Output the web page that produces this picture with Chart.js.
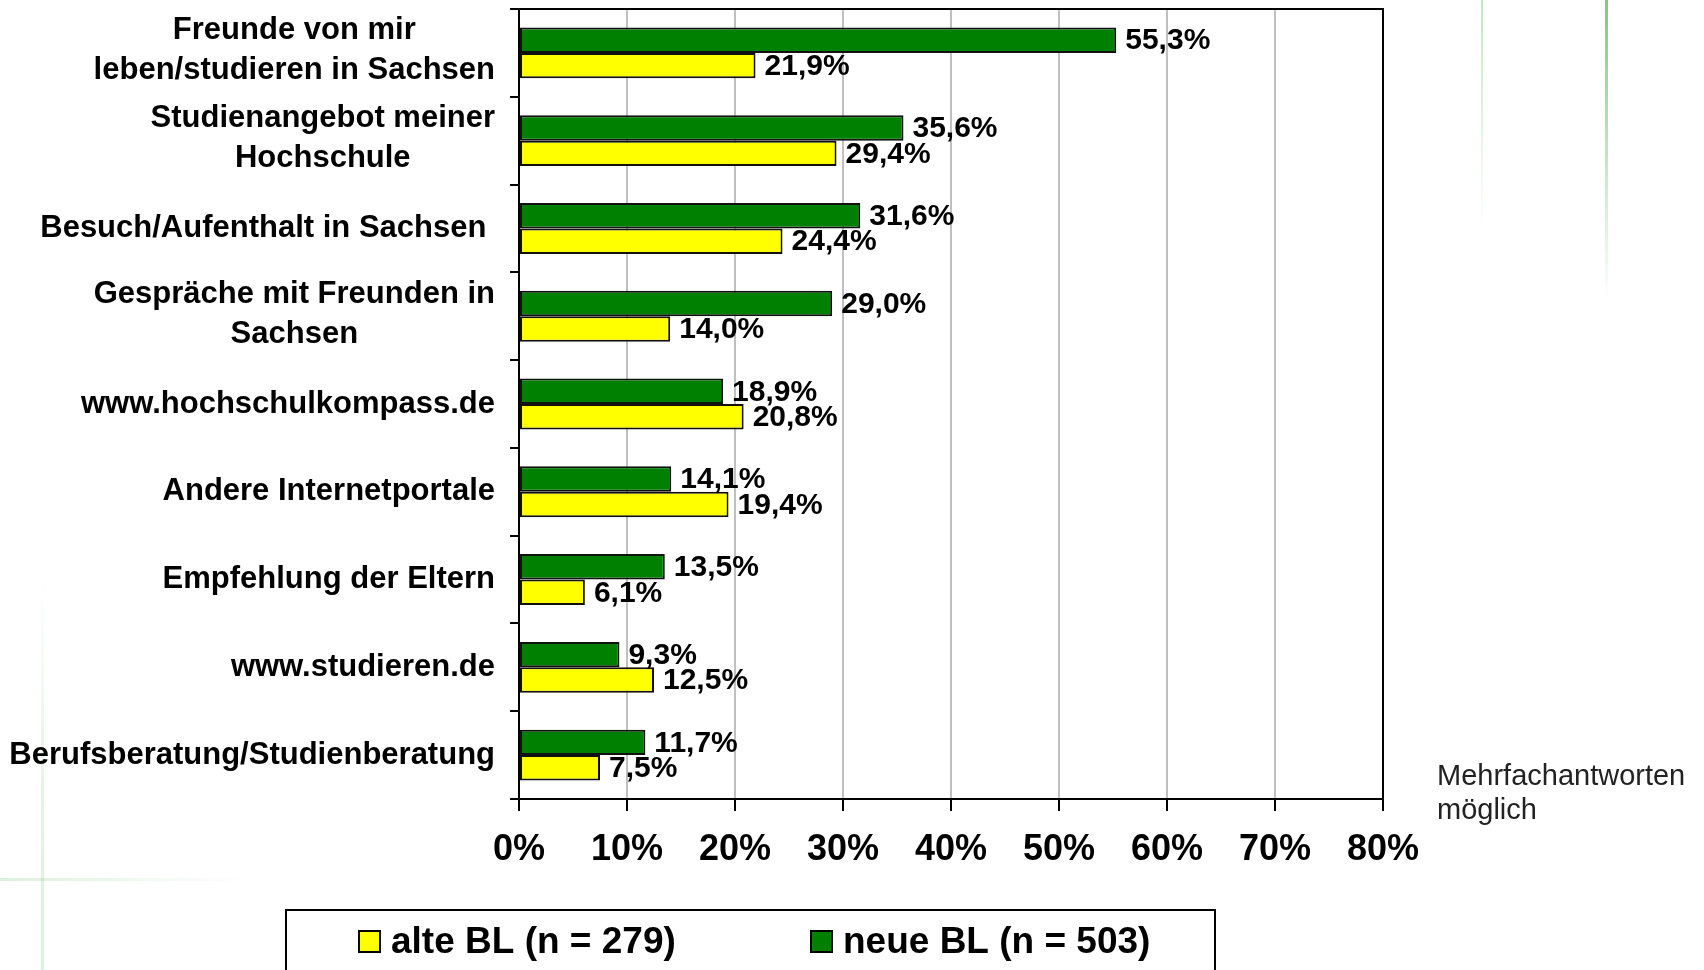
<!DOCTYPE html>
<html>
<head>
<meta charset="utf-8">
<script src="https://cdn.jsdelivr.net/npm/chart.js"></script>
<style>
    html, body { margin: 0; padding: 0; background: #fff; }
    canvas { display: block; }
</style>
</head>
<body>
<canvas id="chart" width="1704" height="970"></canvas>
<script>
const categories = [
    ['Freunde von mir', 'leben/studieren in Sachsen'],
    ['Studienangebot meiner', 'Hochschule'],
    ['Besuch/Aufenthalt in Sachsen '],
    ['Gespräche mit Freunden in', 'Sachsen'],
    ['www.hochschulkompass.de'],
    ['Andere Internetportale'],
    ['Empfehlung der Eltern'],
    ['www.studieren.de'],
    ['Berufsberatung/Studienberatung']
];
const neueBL = [55.3, 35.6, 31.6, 29.0, 18.9, 14.1, 13.5, 9.3, 11.7];
const alteBL = [21.9, 29.4, 24.4, 14.0, 20.8, 19.4, 6.1, 12.5, 7.5];
const xTicks = [0, 10, 20, 30, 40, 50, 60, 70, 80];
const legendOrder = [1, 0];
const note = ['Mehrfachantworten', 'möglich'];

const FONT = "'Liberation Sans', Arial, sans-serif";

function fmt(v) {
    return v.toFixed(1).replace('.', ',') + '%';
}

// faint green page decoration + white background
const backdrop = {
    id: 'backdrop',
    beforeDraw(chart) {
        const c = chart.ctx;
        c.save();
        c.fillStyle = '#fff';
        c.fillRect(0, 0, chart.width, chart.height);
        let g = c.createLinearGradient(0, 0, 0, 300);
        g.addColorStop(0, 'rgba(90,180,90,0.75)');
        g.addColorStop(1, 'rgba(90,180,90,0)');
        c.fillStyle = g;
        c.fillRect(1605, 0, 3, 300);
        g = c.createLinearGradient(0, 0, 0, 230);
        g.addColorStop(0, 'rgba(90,180,90,0.35)');
        g.addColorStop(1, 'rgba(90,180,90,0)');
        c.fillStyle = g;
        c.fillRect(1481, 0, 2, 230);
        g = c.createLinearGradient(0, 580, 0, 970);
        g.addColorStop(0, 'rgba(90,180,90,0)');
        g.addColorStop(0.5, 'rgba(90,180,90,0.15)');
        g.addColorStop(1, 'rgba(90,180,90,0.2)');
        c.fillStyle = g;
        c.fillRect(41, 580, 3, 390);
        g = c.createLinearGradient(0, 0, 250, 0);
        g.addColorStop(0, 'rgba(90,180,90,0.2)');
        g.addColorStop(1, 'rgba(90,180,90,0)');
        c.fillStyle = g;
        c.fillRect(0, 878, 250, 3);
        c.restore();
    }
};

// top border of the plot box
const frame = {
    id: 'frame',
    beforeDatasetsDraw(chart) {
        const a = chart.chartArea;
        const c = chart.ctx;
        c.save();
        c.strokeStyle = '#000';
        c.lineWidth = 2;
        c.beginPath();
        c.moveTo(a.left, a.top);
        c.lineTo(a.right + 1, a.top);
        c.stroke();
        c.restore();
    }
};

// category labels: block right aligned, lines centred inside it
const yLabels = {
    id: 'yLabels',
    afterDraw(chart) {
        const c = chart.ctx;
        const y = chart.scales.y;
        const right = 495;
        c.save();
        c.font = 'bold 31px ' + FONT;
        c.fillStyle = '#000';
        c.textAlign = 'center';
        c.textBaseline = 'middle';
        categories.forEach((lines, i) => {
            const cy = y.getPixelForValue(i);
            const w = Math.max(...lines.map(l => c.measureText(l).width));
            const cx = right - w / 2;
            if (lines.length === 1) {
                c.fillText(lines[0], cx, cy);
            } else {
                c.fillText(lines[0], cx, cy - 22);
                c.fillText(lines[1], cx, cy + 18);
            }
        });
        c.restore();
    }
};

const valueLabels = {
    id: 'valueLabels',
    afterDatasetsDraw(chart) {
        const c = chart.ctx;
        c.save();
        c.font = 'bold 30px ' + FONT;
        c.fillStyle = '#000';
        c.textAlign = 'left';
        c.textBaseline = 'middle';
        chart.data.datasets.forEach((ds, di) => {
            chart.getDatasetMeta(di).data.forEach((bar, i) => {
                c.fillText(fmt(ds.data[i]), bar.x + 9, bar.y + 1);
            });
        });
        c.restore();
    }
};

const legendBox = {
    id: 'legendBox',
    afterDraw(chart) {
        const c = chart.ctx;
        c.save();
        c.strokeStyle = '#000';
        c.lineWidth = 2;
        c.strokeRect(286, 910, 929, 80);
        c.font = 'bold 37px ' + FONT;
        c.textBaseline = 'middle';
        c.textAlign = 'left';
        const xs = [359, 811];
        legendOrder.forEach((di, k) => {
            const ds = chart.data.datasets[di];
            c.fillStyle = ds.backgroundColor;
            c.fillRect(xs[k], 931, 21, 21);
            c.lineWidth = 2;
            c.strokeStyle = '#000';
            c.strokeRect(xs[k], 931, 21, 21);
            c.fillStyle = '#000';
            c.fillText(ds.label, xs[k] + 32, 943);
        });
        c.font = '29px ' + FONT;
        c.fillStyle = '#222';
        c.fillText(note[0], 1437, 777);
        c.fillText(note[1], 1437, 811);
        c.restore();
    }
};

window.addEventListener('load', setup);

function setup() {
    const ctx = document.getElementById('chart').getContext('2d');
    new Chart(ctx, {
        type: 'bar',
        data: {
            labels: categories,
            datasets: [
                {
                    label: 'neue BL (n = 503)',
                    data: neueBL,
                    backgroundColor: '#008000',
                    borderColor: '#111',
                    borderWidth: 2,
                    borderSkipped: false
                },
                {
                    label: 'alte BL (n = 279)',
                    data: alteBL,
                    backgroundColor: '#ffff00',
                    borderColor: '#111',
                    borderWidth: 2,
                    borderSkipped: false
                }
            ]
        },
        options: {
            indexAxis: 'y',
            responsive: false,
            animation: false,
            events: [],
            barPercentage: 1.0,
            categoryPercentage: 0.58,
            layout: { padding: { left: 0, right: 321, top: 9, bottom: 0 } },
            plugins: {
                legend: { display: false },
                tooltip: { enabled: false }
            },
            scales: {
                x: {
                    min: 0,
                    max: 80,
                    afterBuildTicks: scale => {
                        scale.ticks = xTicks.map(v => ({ value: v }));
                    },
                    afterFit: scale => { scale.height = 171; },
                    ticks: {
                        callback: v => v + '%',
                        font: { family: FONT, size: 36, weight: 'bold' },
                        color: '#000',
                        padding: 17,
                        maxRotation: 0
                    },
                    grid: {
                        color: c => (c.tick && c.tick.value === 80 ? '#000' : '#c0c0c0'),
                        lineWidth: 2,
                        tickLength: 12,
                        tickColor: '#000'
                    },
                    border: { display: true, color: '#000', width: 2 }
                },
                y: {
                    afterFit: scale => { scale.width = 519; },
                    ticks: { display: false },
                    grid: {
                        drawOnChartArea: false,
                        offset: true,
                        tickLength: 9,
                        color: '#000',
                        lineWidth: 2
                    },
                    border: { display: true, color: '#000', width: 2 }
                }
            }
        },
        plugins: [backdrop, frame, yLabels, valueLabels, legendBox]
    });
}
</script>
</body>
</html>
